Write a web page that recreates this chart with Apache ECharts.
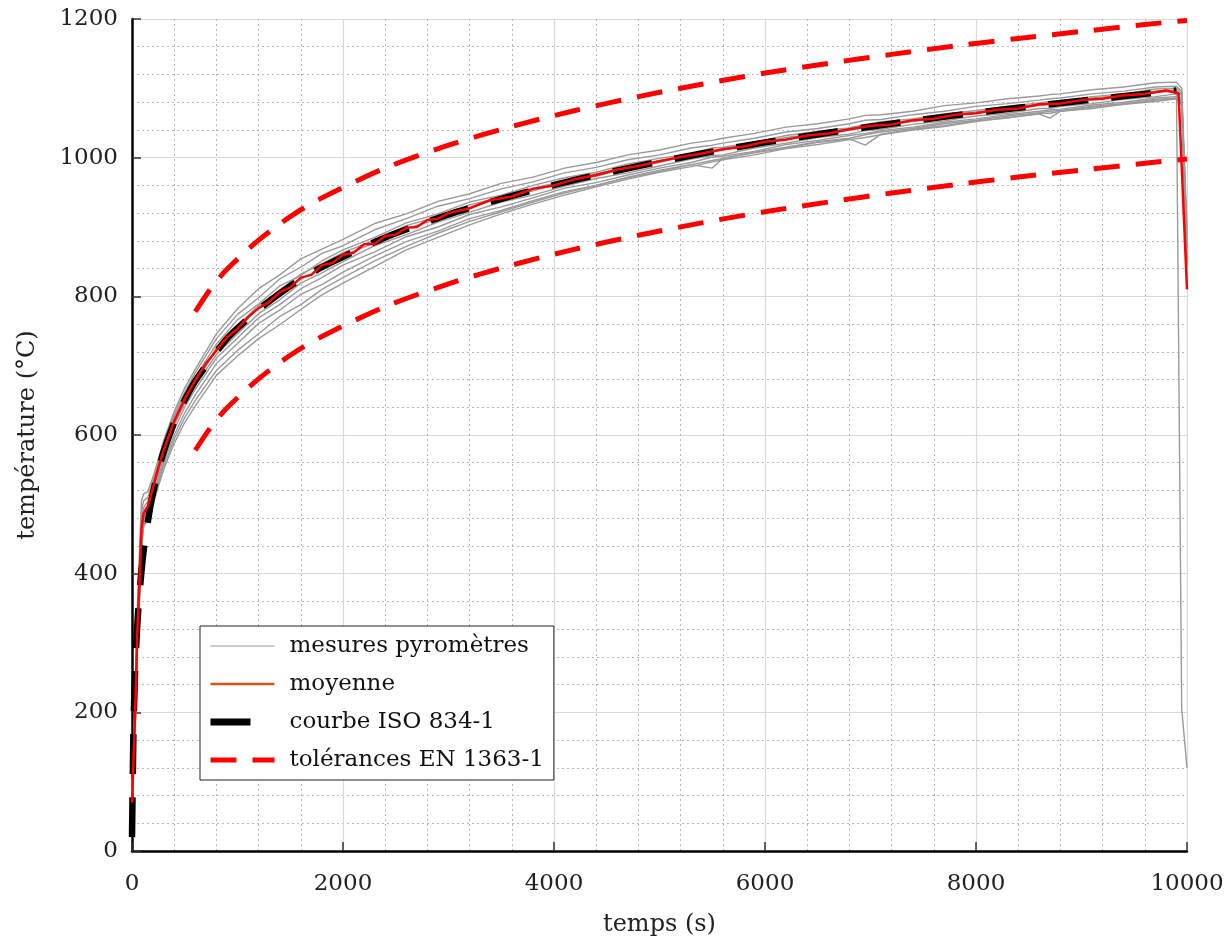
<!DOCTYPE html>
<html>
<head>
<meta charset="utf-8">
<script src="https://cdn.jsdelivr.net/npm/echarts@6/dist/echarts.min.js"></script>
<style>
html,body{margin:0;padding:0;background:#fff;}
#chart{width:1227px;height:938px;}
</style>
</head>
<body>
<div id="chart"></div>
<script>
// ---- axis ticks ----
const xTicks = [0, 2000, 4000, 6000, 8000, 10000];
const yTicks = [0, 200, 400, 600, 800, 1000, 1200];

// ---- ISO 834-1 curve (s, °C) ----
const tIso = [0, 15, 30, 45, 60, 90, 120, 180, 240, 300, 420, 600, 900, 1200, 1500, 1800, 2400, 3000, 3600, 4200, 4800, 5400, 6000, 6600, 7200, 7800, 8400, 9000, 9600, 9900];
const iso  = [20, 185, 261, 312, 349, 404, 445, 502, 544, 576, 626, 678, 739, 781, 815, 842, 885, 918, 945, 968, 988, 1006, 1022, 1036, 1049, 1061, 1072, 1082, 1092, 1097];

// ---- EN 1363-1 tolerances ----
const tTol     = [600, 750, 900, 1200, 1500, 1800, 2400, 3000, 3600, 4200, 4800, 5400, 6000, 6600, 7200, 7800, 8400, 9000, 9600, 10000];
const tolUpper = [778, 812, 839, 881, 915, 942, 985, 1018, 1045, 1068, 1088, 1106, 1122, 1136, 1149, 1161, 1172, 1182, 1192, 1198];
const tolLower = [578, 612, 639, 681, 715, 742, 785, 818, 845, 868, 888, 906, 922, 936, 949, 961, 972, 982, 992, 998];

// ---- pyrometer measurements (s, °C) ----
const tGray = [0, 30, 50, 70, 90, 110, 150, 200, 250, 300, 400, 500, 600,
  800, 1000, 1200, 1400, 1600, 1800, 2000, 2300, 2600, 2900, 3200, 3500, 3800, 4100, 4400, 4700, 5000,
  5300, 5500, 5600, 5900, 6200, 6500, 6800, 6950, 7100, 7400, 7700, 8000, 8300, 8600, 8700, 8800,
  9100, 9400, 9700, 9900, 9950, 10000];
const g01 = [60, 230, 350, 430, 505, 515, 518, 540, 565, 592, 634, 668, 695,
  746, 782, 811, 831, 854, 868, 882, 905, 919, 937, 948, 963, 972, 985, 993, 1004, 1011,
  1021, 1025, 1028, 1035, 1044, 1049, 1056, 1061, 1062, 1067, 1075, 1079, 1085, 1089, 1091, 1092,
  1098, 1102, 1108, 1109, 1100, 900];
const g02 = [80, 215, 330, 405, 490, 505, 510, 535, 562, 588, 630, 662, 690,
  739, 774, 798, 825, 842, 862, 873, 896, 912, 930, 941, 955, 965, 978, 986, 997, 1004,
  1014, 1018, 1021, 1028, 1037, 1042, 1049, 1054, 1055, 1062, 1067, 1074, 1078, 1083, 1085, 1086,
  1092, 1096, 1102, 1103, 1095, 880];
const g03 = [75, 205, 320, 395, 475, 495, 505, 530, 557, 583, 626, 658, 684,
  731, 766, 789, 815, 830, 851, 867, 885, 906, 919, 936, 946, 960, 971, 979, 991, 999,
  1006, 1014, 1015, 1022, 1032, 1038, 1043, 1048, 1052, 1056, 1063, 1068, 1074, 1079, 1081, 1082,
  1088, 1092, 1099, 1100, 1092, 870];
const g04 = [70, 195, 310, 380, 460, 485, 495, 522, 550, 576, 618, 650, 676,
  723, 753, 784, 802, 825, 839, 859, 877, 898, 911, 928, 942, 952, 965, 973, 985, 993,
  1004, 1008, 1011, 1018, 1027, 1032, 1040, 1043, 1047, 1052, 1059, 1064, 1070, 1075, 1077, 1078,
  1084, 1088, 1094, 1096, 1090, 860];
const g05 = [65, 190, 305, 375, 455, 482, 490, 518, 546, 572, 614, 646, 672,
  716, 746, 775, 795, 819, 834, 850, 873, 889, 907, 921, 936, 946, 959, 970, 978, 988,
  998, 1003, 1004, 1014, 1021, 1029, 1034, 1039, 1041, 1048, 1053, 1060, 1064, 1071, 1071, 1074,
  1078, 1084, 1088, 1092, 1085, 855];
const g06 = [85, 185, 300, 370, 450, 478, 487, 512, 540, 566, 608, 640, 666,
  711, 740, 769, 788, 811, 827, 845, 864, 886, 900, 918, 929, 942, 956, 964, 975, 985,
  993, 1001, 1002, 1009, 1019, 1025, 1032, 1035, 1039, 1044, 1051, 1056, 1062, 1067, 1069, 1070,
  1076, 1080, 1086, 1088, 1082, 850];
const g07 = [60, 180, 295, 365, 445, 475, 484, 508, 535, 560, 600, 632, 658,
  703, 732, 761, 780, 803, 817, 835, 858, 879, 894, 912, 924, 938, 951, 960, 972, 982,
  990, 985, 999, 1008, 1015, 1023, 1028, 1033, 1037, 1042, 1049, 1054, 1060, 1065, 1067, 1068,
  1074, 1078, 1084, 1086, 1080, 845];
const g08 = [90, 175, 290, 360, 440, 470, 480, 503, 530, 555, 594, 625, 650,
  693, 722, 746, 771, 788, 810, 827, 851, 872, 891, 908, 922, 936, 949, 960, 971, 980,
  990, 996, 999, 1007, 1014, 1022, 1027, 1018, 1034, 1041, 1046, 1053, 1057, 1064, 1064, 1067,
  1071, 1077, 1081, 1085, 1078, 890];
const g09 = [70, 170, 285, 355, 435, 468, 477, 500, 526, 550, 588, 618, 642,
  686, 714, 739, 759, 781, 802, 819, 843, 867, 885, 903, 919, 933, 946, 958, 969, 979,
  987, 994, 997, 1004, 1013, 1019, 1026, 1029, 1033, 1040, 1045, 1052, 1058, 1063, 1057, 1067,
  1073, 1077, 1083, 1085, 1076, 875];
const g10 = [75, 200, 318, 390, 470, 490, 498, 526, 552, 576, 616, 648, 672,
  726, 757, 787, 808, 832, 847, 863, 881, 902, 915, 932, 943, 956, 966, 977, 986, 996,
  1003, 1010, 1013, 1020, 1029, 1035, 1042, 1045, 1049, 1054, 1061, 1066, 1072, 1077, 1079, 1080,
  1086, 1090, 1096, 1098, 205, 120];

// ---- mean of measurements ----
const tMean = [0, 30, 50, 70, 90, 110, 150, 200, 250, 300, 400, 500, 600, 700, 800, 900, 1000, 1100, 1200, 1300,
  1400, 1500, 1600, 1700, 1800, 1900, 2000, 2100, 2200, 2300, 2400, 2500, 2600, 2700, 2800, 2900, 3000,
  3200, 3400, 3600, 3800, 4000, 4200, 4400, 4600, 4800, 5000, 5200, 5400, 5600, 5800, 6000, 6200, 6400,
  6600, 6800, 7000, 7200, 7400, 7600, 7800, 8000, 8200, 8400, 8600, 8800, 9000, 9200, 9400, 9600, 9800, 9920, 10000];
const mean = [70, 200, 315, 385, 465, 487, 497, 525, 553, 578, 620, 652, 679, 703, 722, 741, 753, 770, 783, 792,
  806, 813, 827, 831, 845, 848, 860, 863, 875, 876, 887, 889, 899, 900, 910, 912, 920,
  927, 939, 944, 955, 960, 969, 975, 983, 988, 995, 1001, 1006, 1012, 1016, 1023, 1026, 1032,
  1035, 1041, 1046, 1048, 1054, 1056, 1062, 1064, 1069, 1071, 1077, 1078, 1083, 1085, 1090, 1092, 1097, 1093, 810];

const grayCurves = [g01, g02, g03, g04, g05, g06, g07, g08, g09, g10];

const FONT = 'DejaVu Serif';
const pairs = (ts, vs) => ts.map((t, i) => [t, vs[i]]);
const hidden = { opacity: 0, color: 'transparent', borderWidth: 0 };

const series = [];
grayCurves.forEach(arr => {
  series.push({
    name: 'mesures pyromètres', type: 'line', data: pairs(tGray, arr),
    symbol: 'none', showSymbol: false, z: 2,
    itemStyle: { color: '#9a9a9a' },
    lineStyle: { color: '#9a9a9a', width: 1.4 }
  });
});
series.push({
  name: 'courbe ISO 834-1', type: 'line', data: pairs(tIso, iso),
  symbol: 'none', showSymbol: false, z: 3, smooth: 0.2,
  itemStyle: { color: '#000' },
  lineStyle: { color: '#000', width: 6.5, type: [40, 23], cap: 'butt' }
});
series.push({
  name: 'tolérances EN 1363-1', type: 'line', data: pairs(tTol, tolUpper),
  symbol: 'none', showSymbol: false, z: 4, smooth: 0.3,
  itemStyle: { color: '#ff0000' },
  lineStyle: { color: '#ff0000', width: 5, type: [26, 16], cap: 'butt' }
});
series.push({
  name: 'tolérances EN 1363-1', type: 'line', data: pairs(tTol, tolLower),
  symbol: 'none', showSymbol: false, z: 4, smooth: 0.3,
  itemStyle: { color: '#ff0000' },
  lineStyle: { color: '#ff0000', width: 5, type: [26, 16], cap: 'butt' }
});
series.push({
  name: 'moyenne', type: 'line', data: pairs(tMean, mean),
  symbol: 'none', showSymbol: false, z: 5,
  itemStyle: { color: '#d95319' },
  lineStyle: { color: '#ff0000', width: 2.5 }
});

const chart = echarts.init(document.getElementById('chart'), null, { renderer: 'canvas' });
chart.setOption({
  animation: false,
  backgroundColor: '#ffffff',
  grid: { left: 132, right: 40, top: 19, bottom: 87, containLabel: false, outerBoundsMode: 'none' },
  legend: {
    orient: 'vertical', left: 200, top: 626,
    backgroundColor: '#ffffff', borderColor: '#222', borderWidth: 1, borderRadius: 0,
    padding: [5, 10, 5, 7], itemGap: 8, itemWidth: 64, itemHeight: 14,
    itemStyle: hidden,
    textStyle: { fontFamily: FONT, fontSize: 23, color: '#111', lineHeight: 30, padding: [0, 0, 0, 10] },
    data: [
      { name: 'mesures pyromètres', itemStyle: hidden, lineStyle: { color: '#9a9a9a', width: 1.2 } },
      { name: 'moyenne', itemStyle: hidden, lineStyle: { color: '#d95319', width: 2.5 } },
      { name: 'courbe ISO 834-1', itemStyle: hidden, lineStyle: { color: '#000', width: 7, type: [40, 30] } },
      { name: 'tolérances EN 1363-1', itemStyle: hidden, lineStyle: { color: '#ff0000', width: 5, type: [26, 16] } }
    ]
  },
  xAxis: {
    type: 'value', min: 0, max: 10000, interval: 2000,
    name: 'temps (s)', nameLocation: 'middle', nameGap: 62,
    nameTextStyle: { fontFamily: FONT, fontSize: 24, color: '#222' },
    axisLine: { show: true, onZero: false, lineStyle: { color: '#000', width: 2.5 } },
    axisTick: { show: true, inside: true, length: 9, lineStyle: { color: '#333', width: 1.5 } },
    axisLabel: { fontFamily: FONT, fontSize: 23, color: '#222', margin: 22,
      formatter: v => xTicks.includes(v) ? String(v) : '' },
    splitLine: { show: true, lineStyle: { color: '#d9d9d9', width: 1.2 } },
    minorTick: { show: false, splitNumber: 5 },
    minorSplitLine: { show: true, lineStyle: { color: '#b8b8b8', width: 1, type: [2, 3] } }
  },
  yAxis: {
    type: 'value', min: 0, max: 1200, interval: 200,
    name: 'température (°C)', nameLocation: 'middle', nameGap: 92, nameRotate: 90,
    nameTextStyle: { fontFamily: FONT, fontSize: 24, color: '#222' },
    axisLine: { show: true, onZero: false, lineStyle: { color: '#000', width: 2.5 } },
    axisTick: { show: true, inside: true, length: 9, lineStyle: { color: '#333', width: 1.5 } },
    axisLabel: { fontFamily: FONT, fontSize: 23, color: '#222', margin: 14,
      formatter: v => yTicks.includes(v) ? String(v) : '' },
    splitLine: { show: true, lineStyle: { color: '#d9d9d9', width: 1.2 } },
    minorTick: { show: false, splitNumber: 5 },
    minorSplitLine: { show: true, lineStyle: { color: '#b8b8b8', width: 1, type: [2, 3] } }
  },
  series: series
});
</script>
</body>
</html>
